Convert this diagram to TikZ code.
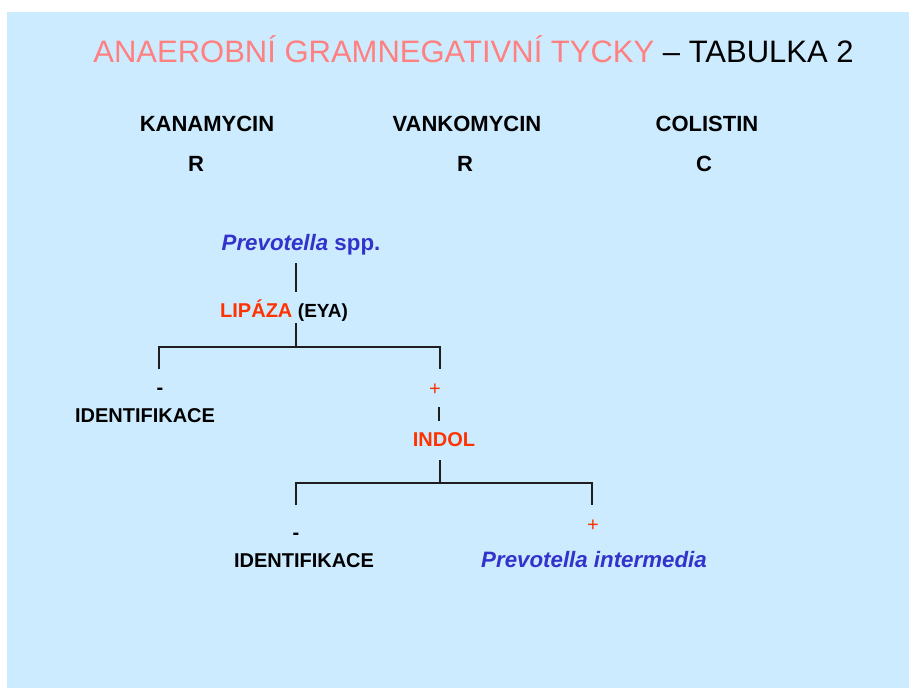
\documentclass[tikz,border=0pt]{standalone}
\usepackage{fontspec}
\setmainfont{Liberation Sans}
\definecolor{bgblue}{RGB}{204,235,255}
\definecolor{pinktitle}{RGB}{255,128,128}
\definecolor{redtxt}{RGB}{255,51,0}
\definecolor{bluetxt}{RGB}{51,51,204}
\definecolor{linegray}{RGB}{30,30,30}
\begin{document}
\begin{tikzpicture}[x=1pt,y=-1pt,
  lbl/.style={inner sep=0pt,anchor=base,font=\fontsize{20}{24}\selectfont\bfseries},
  head/.style={inner sep=0pt,anchor=base,font=\fontsize{22}{26}\selectfont\bfseries},
  species/.style={inner sep=0pt,anchor=base,font=\fontsize{22.3}{26}\selectfont\bfseries\itshape,text=bluetxt},
  sign/.style={inner sep=0pt,anchor=base,font=\fontsize{20}{24}\selectfont\bfseries},
  conn/.style={draw=linegray,line width=2pt}]
\useasboundingbox (0,0) rectangle (909,688);
\fill[white] (0,0) rectangle (909,688);
\fill[bgblue] (7,12) rectangle (909,688);
% title
\node[inner sep=0pt,anchor=base,font=\fontsize{31}{36}\selectfont] (title) at (473.5,62)
  {\textcolor{pinktitle}{ANAEROBNÍ GRAMNEGATIVNÍ TYCKY} – TABULKA 2};
% antibiotics
\node[head] (kan) at (207,131) {KANAMYCIN};
\node[head] (van) at (467,131) {VANKOMYCIN};
\node[head] (col) at (707,131) {COLISTIN};
\node[head] (kanr) at (196,171) {R};
\node[head] (vanr) at (465,171) {R};
\node[head] (colc) at (704,171) {C};
% tree
\node[species] (prev) at (301,250) {Prevotella \textup{spp.}};
\node[inner sep=0pt,anchor=base west,font=\fontsize{20}{24}\selectfont\bfseries] (lip) at (220,317)
  {\textcolor{redtxt}{LIPÁZA} {\fontsize{19}{22}\selectfont(EYA)}};
\coordinate (p1) at (296,263);
\coordinate (p2) at (296,292);
\coordinate (l1) at (296,323);
\coordinate (j1) at (296,347);
\coordinate (jl) at (159,347);
\coordinate (jr) at (440,347);
\coordinate (tl) at (159,369);
\coordinate (tr) at (440,369);
\draw[conn] (p1) -- (p2);
\draw[conn] (l1) -- (j1);
\draw[conn,line join=miter] (tl) -- (jl) -- (jr) -- (tr);
\node[sign] (m1) at (160,394) {-};
\node[sign,text=redtxt,font=\fontsize{20}{24}\selectfont] (pl1) at (435,395) {+};
\node[lbl] (id1) at (145,422) {IDENTIFIKACE};
\coordinate (s1) at (439,407);
\coordinate (s2) at (439,421);
\draw[conn] (s1) -- (s2);
\node[lbl,text=redtxt] (indol) at (444,446) {INDOL};
\coordinate (i1) at (440,460);
\coordinate (j2) at (440,483);
\coordinate (kl) at (296,483);
\coordinate (kr) at (592,483);
\coordinate (ul) at (296,505);
\coordinate (ur) at (592,505);
\draw[conn] (i1) -- (j2);
\draw[conn,line join=miter] (ul) -- (kl) -- (kr) -- (ur);
\node[sign] (m2) at (296,539) {-};
\node[sign,text=redtxt,font=\fontsize{20}{24}\selectfont] (pl2) at (593,531) {+};
\node[lbl] (id2) at (304,567) {IDENTIFIKACE};
\node[species] (inter) at (594,567) {Prevotella intermedia};
\end{tikzpicture}
\end{document}
